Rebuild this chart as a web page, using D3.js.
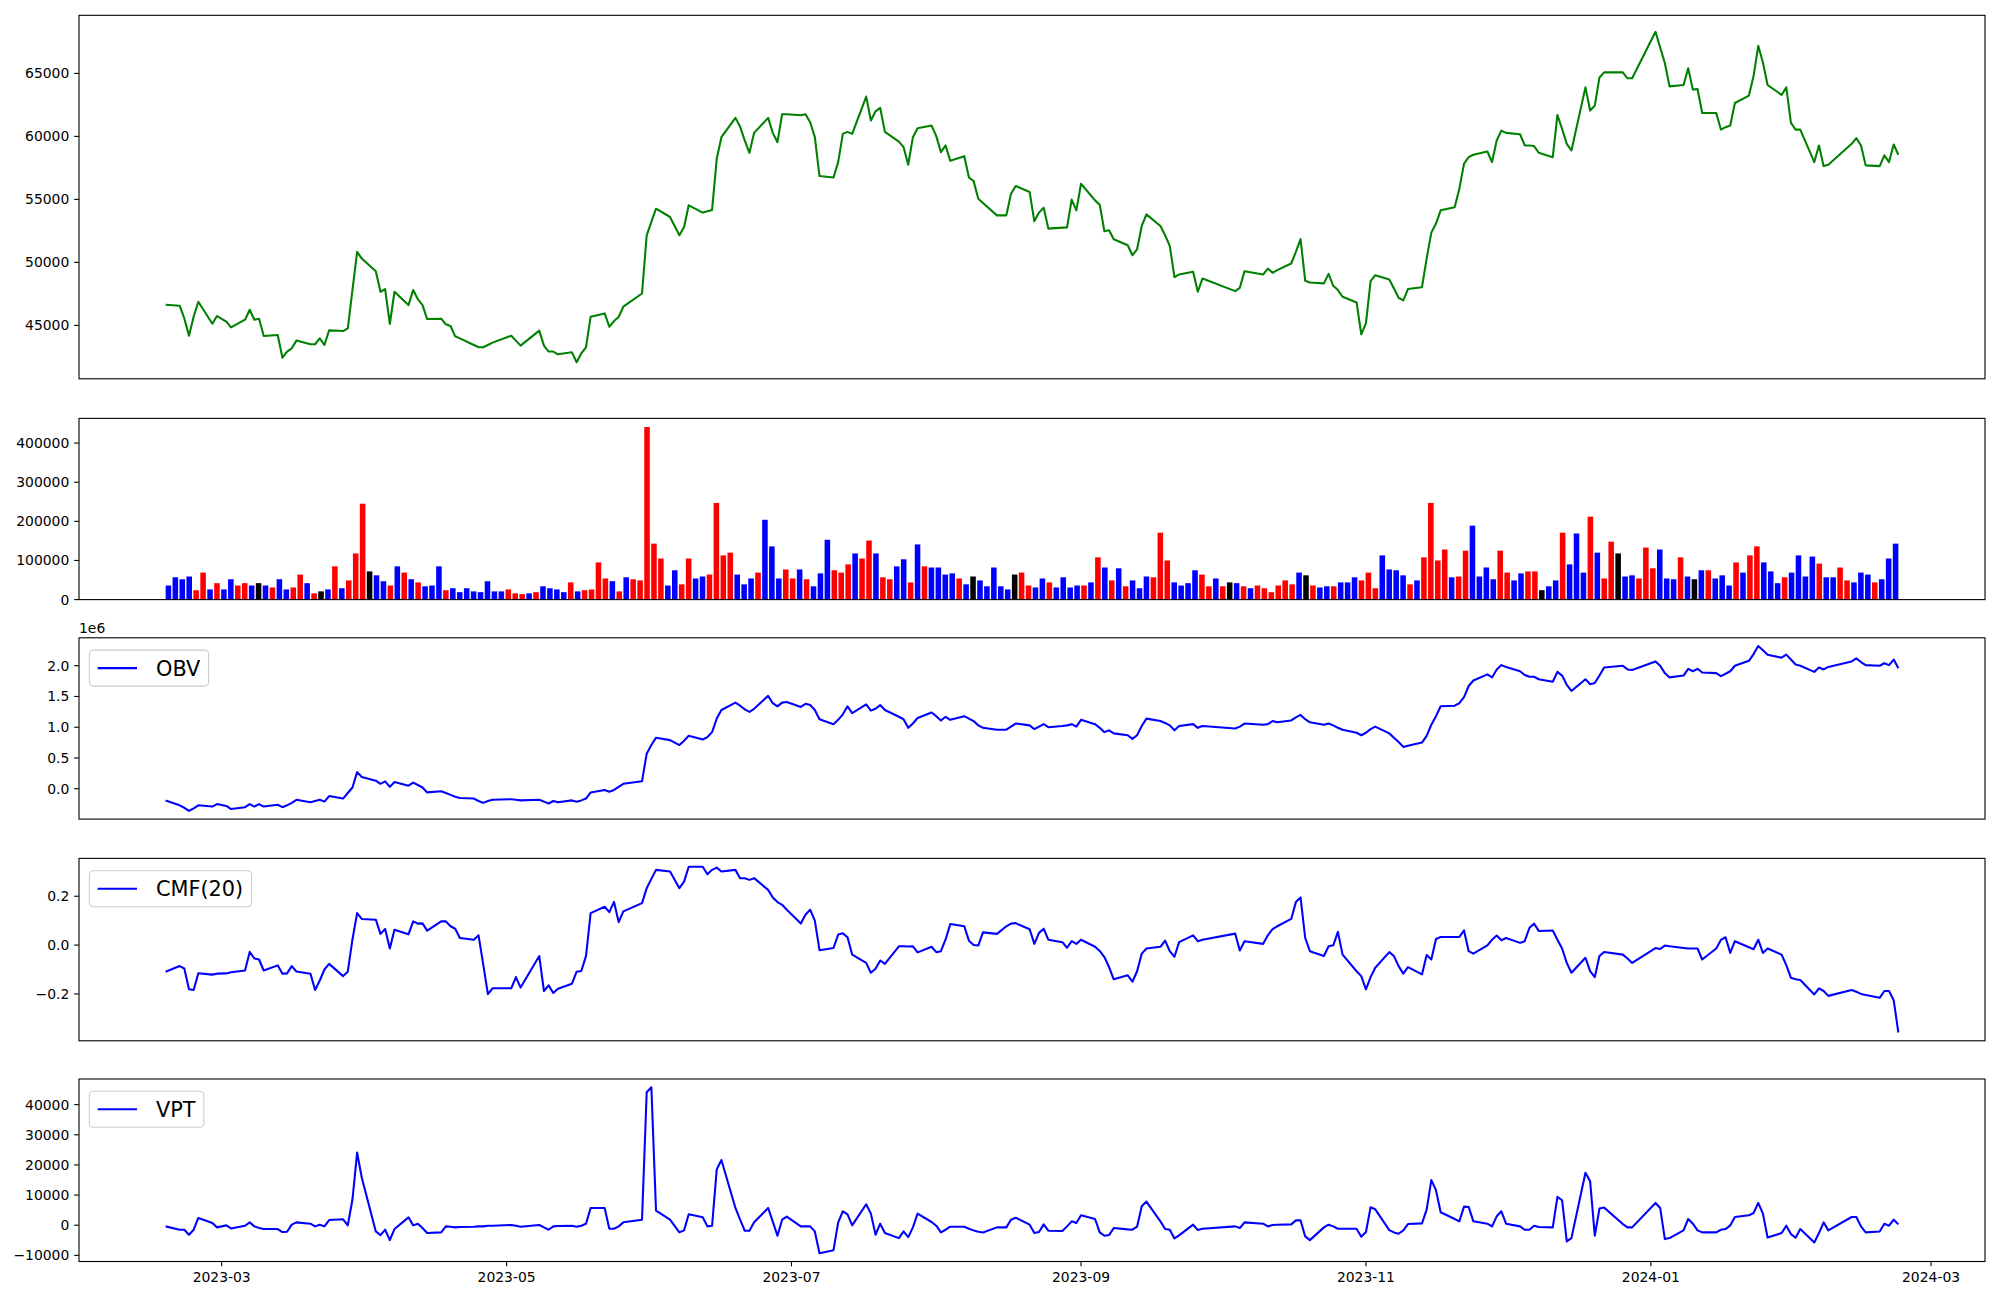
<!DOCTYPE html>
<html><head><meta charset="utf-8">
<script src="https://cdn.jsdelivr.net/npm/d3@7"></script>
<style>body{margin:0;background:#fff}svg text{font-family:"DejaVu Sans",sans-serif;fill:#000}</style>
</head><body><svg id="c" width="2000" height="1300"></svg>
<script>
const dates=["2023-02-17","2023-02-20","2023-02-21","2023-02-22","2023-02-23","2023-02-24","2023-02-27","2023-02-28",
"2023-03-02","2023-03-03","2023-03-06","2023-03-07","2023-03-08","2023-03-09","2023-03-10","2023-03-13","2023-03-14","2023-03-15","2023-03-16","2023-03-17","2023-03-20","2023-03-21","2023-03-22","2023-03-23","2023-03-24","2023-03-27","2023-03-28","2023-03-29","2023-03-30","2023-03-31",
"2023-04-03","2023-04-04","2023-04-05","2023-04-06","2023-04-07","2023-04-10","2023-04-11","2023-04-12","2023-04-13","2023-04-14","2023-04-17","2023-04-18","2023-04-19","2023-04-20","2023-04-21","2023-04-24","2023-04-25","2023-04-26","2023-04-27","2023-04-28",
"2023-05-02","2023-05-03","2023-05-04","2023-05-08","2023-05-09","2023-05-10","2023-05-11","2023-05-12","2023-05-15","2023-05-16","2023-05-17","2023-05-18","2023-05-19","2023-05-22","2023-05-23","2023-05-24","2023-05-25","2023-05-26","2023-05-30","2023-05-31",
"2023-06-01","2023-06-02","2023-06-05","2023-06-07","2023-06-08","2023-06-09","2023-06-12","2023-06-13","2023-06-14","2023-06-15","2023-06-16","2023-06-19","2023-06-20","2023-06-21","2023-06-22","2023-06-23","2023-06-26","2023-06-27","2023-06-28","2023-06-29","2023-06-30",
"2023-07-03","2023-07-04","2023-07-05","2023-07-06","2023-07-07","2023-07-10","2023-07-11","2023-07-12","2023-07-13","2023-07-14","2023-07-17","2023-07-18","2023-07-19","2023-07-20","2023-07-21","2023-07-24","2023-07-25","2023-07-26","2023-07-27","2023-07-28","2023-07-31",
"2023-08-01","2023-08-02","2023-08-03","2023-08-04","2023-08-07","2023-08-08","2023-08-09","2023-08-10","2023-08-11","2023-08-14","2023-08-16","2023-08-17","2023-08-18","2023-08-21","2023-08-22","2023-08-23","2023-08-24","2023-08-25","2023-08-28","2023-08-29","2023-08-30","2023-08-31",
"2023-09-01","2023-09-04","2023-09-05","2023-09-06","2023-09-07","2023-09-08","2023-09-11","2023-09-12","2023-09-13","2023-09-14","2023-09-15","2023-09-18","2023-09-19","2023-09-20","2023-09-21","2023-09-22","2023-09-25","2023-09-26","2023-09-27",
"2023-10-04","2023-10-05","2023-10-06","2023-10-10","2023-10-11","2023-10-12","2023-10-13","2023-10-16","2023-10-17","2023-10-18","2023-10-19","2023-10-20","2023-10-23","2023-10-24","2023-10-25","2023-10-26","2023-10-27","2023-10-30","2023-10-31",
"2023-11-01","2023-11-02","2023-11-03","2023-11-06","2023-11-07","2023-11-08","2023-11-09","2023-11-10","2023-11-13","2023-11-14","2023-11-15","2023-11-16","2023-11-17","2023-11-20","2023-11-21","2023-11-22","2023-11-23","2023-11-24","2023-11-27","2023-11-28","2023-11-29","2023-11-30",
"2023-12-01","2023-12-04","2023-12-05","2023-12-06","2023-12-07","2023-12-08","2023-12-11","2023-12-12","2023-12-13","2023-12-14","2023-12-15","2023-12-18","2023-12-19","2023-12-20","2023-12-21","2023-12-22","2023-12-26","2023-12-27","2023-12-28",
"2024-01-02","2024-01-03","2024-01-04","2024-01-05","2024-01-08","2024-01-09","2024-01-10","2024-01-11","2024-01-12","2024-01-15","2024-01-16","2024-01-17","2024-01-18","2024-01-19","2024-01-22","2024-01-23","2024-01-24","2024-01-25","2024-01-26","2024-01-29","2024-01-30","2024-01-31",
"2024-02-01","2024-02-02","2024-02-05","2024-02-06","2024-02-07","2024-02-08","2024-02-13","2024-02-14","2024-02-15","2024-02-16","2024-02-19","2024-02-20","2024-02-21","2024-02-22","2024-02-23"];

const closePrice=[46640,46560,45550,44180,45690,46870,45130,45740,45290,44840,
45450,46240,45450,45530,44160,44240,42440,42920,43180,43790,
43500,43500,43970,43440,44600,44550,44760,47800,50830,50300,
49300,47670,47880,45110,47670,46610,47800,47080,46610,45500,
45530,45080,44950,44130,43970,43440,43260,43260,43440,43630,
44180,43790,43390,44580,43390,42920,42920,42700,42860,42070,
42780,43260,45690,45950,44890,45340,45660,46480,47530,52150,
53210,54260,53600,52150,52810,54530,53950,54050,54160,58220,
59940,61470,60780,59670,58700,60280,61470,60280,59540,61760,
61760,61680,61760,61120,59940,56850,56740,57960,60200,60360,
60200,63160,61260,61990,62260,60360,59590,59150,57750,59940,
60650,60860,60020,58750,59280,58060,58430,56740,56450,55050,
54710,53730,53730,55450,56060,55580,53260,53950,54340,52680,
52760,52780,54980,54130,56240,54920,54580,52470,52550,51840,
51360,50570,51040,52890,53810,52890,52150,51310,48830,49040,
49250,47670,48720,47720,47980,49300,49040,49510,49170,49380,
49910,50830,51840,48540,48400,48330,49090,48140,47800,47270,
46820,44290,45160,48510,48980,48640,47930,47190,46980,47880,
48030,50300,52360,53080,54130,54370,55850,57830,58350,58540,
58800,57960,59670,60460,60280,60170,59280,59280,59230,58700,
58350,61700,60600,59410,58880,63890,62050,62440,64680,65080,
65080,64610,64610,68300,67060,65820,63970,64080,65400,63710,
63760,61860,61860,60540,60730,60860,62650,63240,64800,67190,
65870,64080,63290,63890,61070,60540,60540,57960,59280,57640,
57750,59410,59860,59280,57700,57640,58490,57960,59360,58540];

const volume=[36000,57000,52000,59000,24000,69000,26000,42000,26000,52000,
36000,42000,36000,42000,36000,31000,52000,26000,31000,64000,
42000,16000,21000,26000,85000,29000,49000,118000,245000,72000,
62000,47000,36000,85000,69000,52000,44000,34000,36000,85000,
24000,29000,19000,29000,21000,19000,47000,21000,21000,26000,
16000,14000,16000,19000,34000,29000,26000,19000,44000,21000,
24000,26000,95000,54000,47000,21000,57000,52000,49000,441000,
143000,105000,36000,75000,39000,105000,54000,59000,64000,247000,
113000,120000,64000,39000,54000,69000,204000,136000,54000,77000,
54000,77000,52000,34000,67000,153000,75000,69000,90000,118000,
105000,151000,118000,57000,52000,85000,103000,44000,141000,85000,
82000,82000,64000,67000,54000,39000,59000,49000,34000,82000,
34000,26000,64000,69000,36000,31000,54000,44000,31000,57000,
31000,36000,36000,44000,108000,82000,49000,80000,34000,49000,
29000,59000,57000,171000,100000,44000,36000,42000,75000,64000,
34000,54000,34000,44000,42000,34000,29000,36000,29000,19000,
36000,49000,39000,69000,62000,36000,31000,34000,34000,44000,
44000,57000,49000,69000,29000,113000,77000,75000,62000,39000,
49000,108000,247000,100000,128000,57000,59000,125000,189000,59000,
82000,52000,125000,69000,49000,67000,72000,72000,24000,34000,
49000,171000,90000,169000,69000,212000,120000,54000,148000,118000,
59000,62000,54000,133000,80000,128000,54000,52000,108000,59000,
52000,75000,75000,54000,62000,36000,95000,69000,113000,136000,
95000,72000,42000,57000,69000,113000,59000,110000,92000,57000,
57000,82000,49000,44000,69000,64000,44000,52000,105000,143000];

// r = up (red), b = down (blue), k = unchanged (black)
const volumeDirection=("bbbbrrbrbb"+"rrbkbrbbrr"+"brkbrbrrrk"+"bbrbrbrbbb"+"rbbbbbbbbr"+
"rrbrbbbbrb"+"rrrrbrbrrr"+"rrbbrrbbrr"+"rrbbbrbbbr"+"rbrbbbrrrb"+
"rrbrrbbrbr"+"bbbbrbkbbb"+"bbkrrbbrbb"+"bbrbrbrbrb"+"bbrrrbbbbr"+
"rbrkbrbrrr"+"rrrbkrbbrb"+"bbrrrbbbbr"+"brrrrbrrbb"+"bbrrbbrrkb"+
"brbbbrbrrk"+"bbrrrbbbrb"+"kbrbbbrbrr"+"bbbrbbbbrb"+"brrbbbrbbb").split("");

// OBV in units of 1e6
const obvMillions=[-0.19,-0.27,-0.31,-0.36,-0.32,-0.27,-0.29,-0.25,-0.28,-0.33,
-0.30,-0.25,-0.29,-0.25,-0.29,-0.26,-0.30,-0.27,-0.23,-0.18,
-0.22,-0.20,-0.18,-0.21,-0.12,-0.16,-0.07,0.02,0.27,0.19,
0.13,0.08,0.12,0.03,0.11,0.05,0.10,0.06,0.02,-0.06,
-0.04,-0.07,-0.10,-0.13,-0.15,-0.16,-0.20,-0.23,-0.20,-0.18,
-0.17,-0.18,-0.19,-0.18,-0.21,-0.24,-0.20,-0.22,-0.19,-0.21,
-0.19,-0.16,-0.06,-0.02,-0.05,-0.02,0.03,0.08,0.12,0.57,
0.71,0.83,0.79,0.71,0.78,0.86,0.80,0.84,0.92,1.14,
1.28,1.40,1.35,1.29,1.25,1.30,1.51,1.39,1.34,1.40,
1.41,1.33,1.38,1.36,1.28,1.13,1.05,1.12,1.21,1.34,
1.23,1.37,1.27,1.30,1.36,1.28,1.17,1.13,0.99,1.06,
1.15,1.24,1.18,1.11,1.17,1.12,1.18,1.14,1.10,1.03,
0.99,0.96,0.96,1.01,1.06,1.03,0.97,1.01,1.05,1.00,
1.02,1.03,1.05,1.01,1.12,1.05,0.99,0.92,0.95,0.90,
0.87,0.81,0.87,1.02,1.14,1.10,1.07,1.03,0.95,1.02,
1.05,0.99,1.02,0.98,1.01,1.06,1.04,1.05,1.10,1.08,
1.11,1.16,1.20,1.13,1.08,1.04,1.06,1.03,0.99,0.96,
0.91,0.87,0.91,0.97,1.01,0.90,0.83,0.76,0.68,0.70,
0.75,0.86,1.04,1.18,1.34,1.35,1.39,1.49,1.67,1.76,
1.86,1.81,1.94,2.01,1.98,1.91,1.85,1.82,1.82,1.78,
1.74,1.90,1.84,1.69,1.59,1.78,1.70,1.72,1.84,1.97,
2.00,1.94,1.93,2.07,2.00,1.88,1.81,1.84,1.95,1.91,
1.95,1.89,1.88,1.83,1.87,1.91,2.00,2.08,2.19,2.32,
2.25,2.18,2.13,2.18,2.10,2.02,2.00,1.90,1.97,1.94,
1.98,2.07,2.12,2.06,2.01,2.00,2.04,2.01,2.10,1.96];

const cmf20=[-0.109,-0.086,-0.096,-0.181,-0.184,-0.115,-0.121,-0.117,-0.116,-0.111,
-0.104,-0.028,-0.055,-0.059,-0.104,-0.083,-0.117,-0.116,-0.086,-0.108,
-0.117,-0.184,-0.145,-0.100,-0.077,-0.127,-0.109,0.023,0.131,0.107,
0.104,0.046,0.066,-0.014,0.063,0.044,0.097,0.088,0.089,0.059,
0.097,0.097,0.077,0.067,0.029,0.022,0.040,-0.079,-0.201,-0.177,
-0.177,-0.131,-0.174,-0.045,-0.188,-0.165,-0.196,-0.179,-0.158,-0.109,
-0.106,-0.045,0.131,0.157,0.135,0.177,0.094,0.138,0.172,0.233,
0.271,0.308,0.301,0.233,0.260,0.321,0.321,0.290,0.308,0.317,
0.301,0.308,0.274,0.274,0.267,0.274,0.226,0.195,0.176,0.165,
0.145,0.088,0.124,0.145,0.100,-0.021,-0.012,0.043,0.048,0.032,
-0.039,-0.073,-0.113,-0.097,-0.063,-0.077,-0.005,-0.005,-0.006,-0.005,
-0.030,-0.007,-0.029,-0.025,0.023,0.086,0.077,0.018,0.000,-0.002,
0.052,0.046,0.077,0.088,0.090,0.065,0.005,0.050,0.067,0.022,
0.012,-0.011,0.016,0.005,0.022,-0.007,-0.024,-0.049,-0.090,-0.140,
-0.124,-0.150,-0.107,-0.035,-0.014,-0.007,0.018,-0.025,-0.048,0.012,
0.040,0.016,0.022,0.047,-0.022,0.016,0.005,0.040,0.065,0.077,
0.107,0.176,0.195,0.029,-0.025,-0.045,-0.005,-0.001,0.054,-0.039,
-0.107,-0.127,-0.181,-0.131,-0.093,-0.029,-0.045,-0.086,-0.117,-0.090,
-0.120,-0.041,-0.059,0.025,0.033,0.033,0.033,0.060,-0.025,-0.035,
-0.001,0.022,0.039,0.020,0.029,0.009,0.016,0.070,0.088,0.058,
0.060,0.022,-0.014,-0.073,-0.113,-0.052,-0.107,-0.131,-0.045,-0.028,
-0.039,-0.055,-0.073,-0.012,-0.016,-0.002,-0.005,-0.012,-0.014,-0.014,
-0.014,-0.059,-0.014,0.021,0.032,-0.032,0.016,-0.009,-0.017,0.022,
-0.032,-0.014,-0.039,-0.082,-0.134,-0.140,-0.143,-0.202,-0.177,-0.188,
-0.208,-0.184,-0.191,-0.200,-0.204,-0.216,-0.188,-0.188,-0.226,-0.358];

const vpt=[-390,-1500,-1500,-3170,-1500,2400,720,-720,-60,-1060,
-170,950,-390,-950,-1280,-1280,-2280,-2170,170,950,
500,-390,170,-390,1720,1950,-60,8510,24080,15740,
-2060,-3280,-1500,-4950,-1280,2610,-60,500,-950,-2610,
-2390,-390,-500,-720,-610,-500,-390,-390,-170,-170,
60,-170,-500,60,-720,-1500,-390,-280,-170,-500,
-170,500,5730,5730,-1170,-1170,-390,950,1830,44090,
45760,4840,1830,-2390,-1720,3610,2610,-390,-170,18520,
21630,5730,1830,-1830,-1830,950,5730,1170,-3500,1830,
2840,-390,-390,-390,-2060,-9290,-8280,950,4620,3610,
-60,6950,3840,-3170,500,-2610,-4280,-2060,-3950,-720,
3840,1060,-170,-2390,-1500,-500,-500,-1170,-1720,-2170,
-2390,-720,-720,1830,2500,170,-2610,-2280,280,-1830,
-1950,-390,1280,720,3280,2060,-2390,-3500,-3280,-950,
-1390,-1500,-500,6280,7840,1280,-1280,-1500,-4390,-3390,
170,-1610,-1170,-390,-950,950,500,-390,60,170,
280,1610,1610,-3720,-4950,-720,170,-390,-1170,-1170,
-1170,-3840,-2280,5950,5280,-1610,-2390,-2840,-1720,390,
610,5170,14960,11620,4280,2060,1280,6170,6060,1280,
500,-390,2950,4620,500,-390,-1500,-1500,-170,-610,
-720,9400,8280,-5390,-4280,17400,14620,-3500,5510,5840,
390,-720,-720,7390,5730,-4610,-4280,-1720,2060,500,
-1720,-2390,-2390,-1500,-1280,-60,2720,3280,4060,7390,
3840,-4060,-2610,-170,-2950,-4170,-1280,-5730,-2610,950,
-1720,2720,2720,-390,-2390,-2060,500,-170,1830,280];

const priceTicks=[45000,50000,55000,60000,65000];
const volumeTicks=[0,100000,200000,300000,400000];
const obvTicks=[0,0.5,1.0,1.5,2.0];
const cmfTicks=[-0.2,0.0,0.2];
const vptTicks=[-10000,0,10000,20000,30000,40000];
const dateTicks=["2023-03-01","2023-05-01","2023-07-01","2023-09-01","2023-11-01","2024-01-01","2024-03-01"];

const svg=d3.select("#c");
const L=79,R=1985;
const FS=13.9, TL=4.86, PAD=4.86;
const panels=[{top:15.3,h:363.5},{top:418.4,h:181.2},{top:637.8,h:181.3},{top:858.4,h:182.4},{top:1079,h:182.5}];
const parse=d3.utcParse("%Y-%m-%d");
const t=dates.map(parse);
const n=t.length;

function pad(ext){const r=ext[1]-ext[0];return [ext[0]-0.05*r,ext[1]+0.05*r];}
const tExt=d3.extent(t);
const span=tExt[1]-tExt[0];
const x=d3.scaleUtc().domain([new Date(+tExt[0]-0.05*span),new Date(+tExt[1]+0.05*span)]).range([L,R]);

function yAxis(p,y,ticks,fmt){
  const g=svg.append("g");
  ticks.forEach(v=>{
    const yy=y(v);
    g.append("line").attr("x1",L-TL).attr("x2",L).attr("y1",yy).attr("y2",yy).attr("stroke","#000").attr("stroke-width",1.1);
    g.append("text").attr("x",L-TL-PAD).attr("y",yy).attr("dy","0.36em").attr("text-anchor","end").attr("font-size",FS).text(fmt(v));
  });
}
function frame(p){
  svg.append("rect").attr("x",L).attr("y",p.top).attr("width",R-L).attr("height",p.h).attr("fill","none").attr("stroke","#000").attr("stroke-width",1.1);
}
function legend(p,label){
  const fs=20.83;
  const bx=89.4, by=p.top+12.3;
  const g=svg.append("g");
  const txt=g.append("text").attr("x",156).attr("y",by+18).attr("dy","0.36em").attr("font-size",fs).text(label);
  const tw=txt.node().getComputedTextLength();
  g.insert("rect","text").attr("x",bx).attr("y",by).attr("width",156+tw+8.3-bx).attr("height",36).attr("rx",4).attr("fill","#fff").attr("fill-opacity",0.8).attr("stroke","#cccccc").attr("stroke-width",1.1);
  g.insert("line","text").attr("x1",97.7).attr("x2",137).attr("y1",by+18).attr("y2",by+18).attr("stroke","blue").attr("stroke-width",2.08);
}
function linePanel(p,vals,color,ticks,fmt){
  const y=d3.scaleLinear().domain(pad(d3.extent(vals))).range([p.top+p.h,p.top]);
  svg.append("path").datum(vals).attr("fill","none").attr("stroke",color).attr("stroke-width",2.08).attr("stroke-linejoin","round")
    .attr("d",d3.line().x((d,i)=>x(t[i])).y(d=>y(d)));
  yAxis(p,y,ticks,fmt);
  frame(p);
  return y;
}

// Panel 1: price
linePanel(panels[0],closePrice,"green",priceTicks,d3.format("d"));

// Panel 2: volume bars (index based)
{
  const p=panels[1];
  const xi=d3.scaleLinear().domain([-0.4-0.05*(n-0.2),(n-1)+0.4+0.05*(n-0.2)]).range([L,R]);
  const y=d3.scaleLinear().domain([0,d3.max(volume)*1.05]).range([p.top+p.h,p.top]);
  const col={r:"red",b:"blue",k:"black"};
  svg.append("g").selectAll("rect").data(volume).join("rect")
    .attr("x",(d,i)=>xi(i-0.4)).attr("width",xi(0.8)-xi(0))
    .attr("y",d=>y(d)).attr("height",d=>y(0)-y(d))
    .attr("fill",(d,i)=>col[volumeDirection[i]]);
  yAxis(p,y,volumeTicks,d3.format("d"));
  frame(p);
}

// Panel 3: OBV
linePanel(panels[2],obvMillions,"blue",obvTicks,d3.format(".1f"));
legend(panels[2],"OBV");
svg.append("text").attr("x",L).attr("y",panels[2].top-4.5).attr("font-size",FS).text("1e6");

// Panel 4: CMF
linePanel(panels[3],cmf20,"blue",cmfTicks,v=>d3.format(".1f")(v).replace("-","\u2212"));
legend(panels[3],"CMF(20)");

// Panel 5: VPT
linePanel(panels[4],vpt,"blue",vptTicks,v=>d3.format("d")(v).replace("-","\u2212"));
legend(panels[4],"VPT");

// x axis on bottom panel
{
  const p=panels[4], b=p.top+p.h;
  const g=svg.append("g");
  const fmt=d3.utcFormat("%Y-%m");
  dateTicks.map(parse).forEach(d=>{
    const xx=x(d);
    g.append("line").attr("x1",xx).attr("x2",xx).attr("y1",b).attr("y2",b+TL).attr("stroke","#000").attr("stroke-width",1.1);
    g.append("text").attr("x",xx).attr("y",b+TL+PAD+10.6).attr("text-anchor","middle").attr("font-size",FS).text(fmt(d));
  });
}
</script></body></html>
